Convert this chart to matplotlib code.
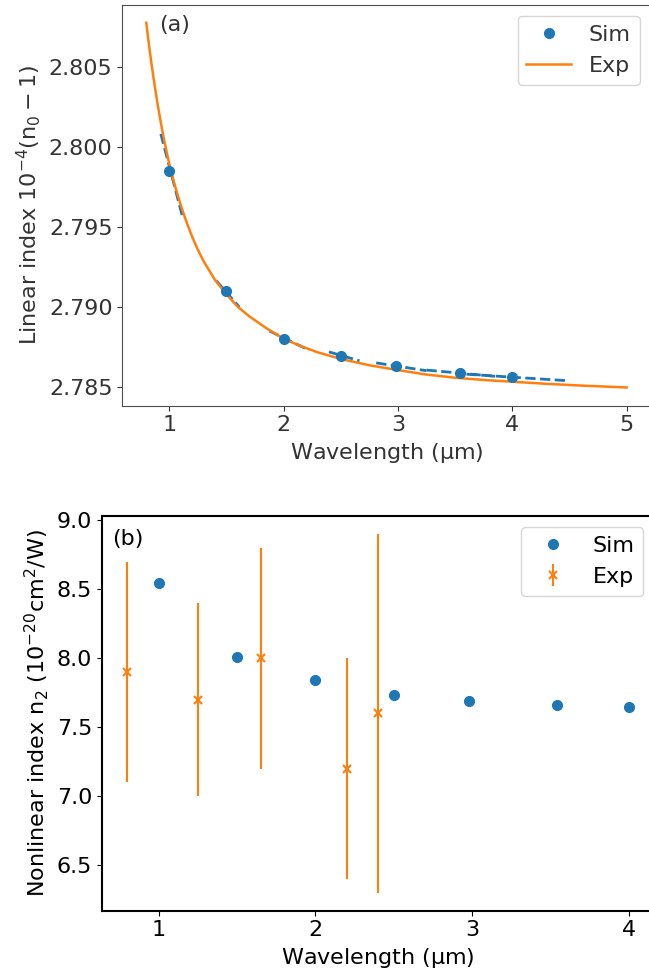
import numpy as np
import matplotlib
matplotlib.use("Agg")
import matplotlib.pyplot as plt

plt.rcParams['mathtext.default'] = 'regular'
plt.rcParams['font.size'] = 16

# (a) linear index, simulation points
sim_wl = [1.0, 1.5, 2.0, 2.5, 2.98, 3.54, 4.0]
sim_n0 = [2.79854, 2.79098, 2.78802, 2.78696, 2.78631, 2.78586, 2.78561]

# local dispersion (dashed) segments: end points
seg_x0 = [0.927, 1.409, 1.876, 2.397, 2.81, 3.25, 3.60]
seg_x1 = [1.116, 1.613, 2.226, 2.664, 3.25, 3.85, 4.47]
seg_y0 = [2.80084, 2.79167, 2.78850, 2.78719, 2.78650, 2.78605, 2.78579]
seg_y1 = [2.79567, 2.79000, 2.78729, 2.78663, 2.78601, 2.78566, 2.78539]

# experimental dispersion curve
exp_wl = [0.80, 0.82, 0.84, 0.86, 0.88, 0.90, 0.92, 0.94, 0.96, 0.98, 1.00,
          1.02, 1.05, 1.10, 1.15, 1.20, 1.25, 1.30, 1.40, 1.50, 1.60, 1.70,
          1.85, 2.00, 2.15, 2.30, 2.50, 2.75, 3.00, 3.25, 3.50, 3.75, 4.00,
          4.30, 4.60, 5.00]
exp_n0 = [2.80780, 2.80662, 2.80552, 2.80450, 2.80355, 2.80266, 2.80183,
          2.80105, 2.80032, 2.79964, 2.79900, 2.79840, 2.79760, 2.79640,
          2.79535, 2.79442, 2.79360, 2.79288, 2.79170, 2.79080, 2.79001,
          2.78942, 2.78867, 2.78802, 2.78755, 2.78716, 2.78675, 2.78635,
          2.78605, 2.78577, 2.78557, 2.78543, 2.78532, 2.78519, 2.78508,
          2.78496]

# (b) nonlinear index
sim_n2 = [8.547, 8.007, 7.838, 7.735, 7.691, 7.662, 7.645]
exp2_wl = [0.8, 1.25, 1.65, 2.2, 2.4]
exp2_n2 = [7.9, 7.7, 8.0, 7.2, 7.6]
exp2_err = [0.8, 0.7, 0.8, 0.8, 1.3]

fig = plt.figure(figsize=(6.49, 9.8), dpi=100)

# top panel (grey text style)
dark = '0.2'
ax1 = fig.add_axes([0.1884, 0.586, 0.8142, 0.4094])
ax1.plot(sim_wl, sim_n0, 'o', color='C0', ms=7, label='Sim', zorder=4)
for x0, x1, y0, y1 in zip(seg_x0, seg_x1, seg_y0, seg_y1):
    ax1.plot([x0, x1], [y0, y1], '--', color='C0', lw=2, zorder=2)
ax1.plot(exp_wl, exp_n0, '-', color='C1', lw=1.8, label='Exp', zorder=3)
ax1.set_xticks([1, 2, 3, 4, 5])
ax1.set_yticks([2.785, 2.790, 2.795, 2.800, 2.805])
ax1.yaxis.set_major_formatter(matplotlib.ticker.FormatStrFormatter('%.3f'))
ax1.set_xlabel(r'Wavelength ($\mu$m)', color=dark)
ax1.set_ylabel(r'Linear index $10^{-4}(n_0-1)$', color=dark)
ax1.tick_params(colors=dark, labelsize=16)
for s in ax1.spines.values():
    s.set_color('0.3')
ax1.text(0.07, 0.975, '(a)', transform=ax1.transAxes, va='top', ha='left', color=dark)
leg1 = ax1.legend(loc='upper right', fontsize=16)
for t in leg1.get_texts():
    t.set_color(dark)

# bottom panel
ax2 = fig.add_axes([0.1572, 0.0707, 0.8513, 0.4028])
ax2.plot(sim_wl, sim_n2, 'o', color='C0', ms=7, label='Sim', zorder=3)
ax2.errorbar(exp2_wl, exp2_n2, yerr=exp2_err, fmt='x', color='C1', ms=6,
             elinewidth=1.5, mew=1.5, capsize=0, label='Exp')
ax2.set_xticks([1, 2, 3, 4])
ax2.set_yticks([6.5, 7.0, 7.5, 8.0, 8.5, 9.0])
ax2.yaxis.set_major_formatter(matplotlib.ticker.FormatStrFormatter('%.1f'))
ax2.set_xlabel(r'Wavelength ($\mu$m)')
ax2.set_ylabel(r'Nonlinear index $n_2$ ($10^{-20}$cm$^2$/W)')
ax2.tick_params(labelsize=16)
for s in ax2.spines.values():
    s.set_linewidth(1.5)
ax2.text(0.019, 0.967, '(b)', transform=ax2.transAxes, va='top', ha='left')
ax2.legend(loc='upper right', fontsize=16)

fig.savefig('out.png', dpi=100)
